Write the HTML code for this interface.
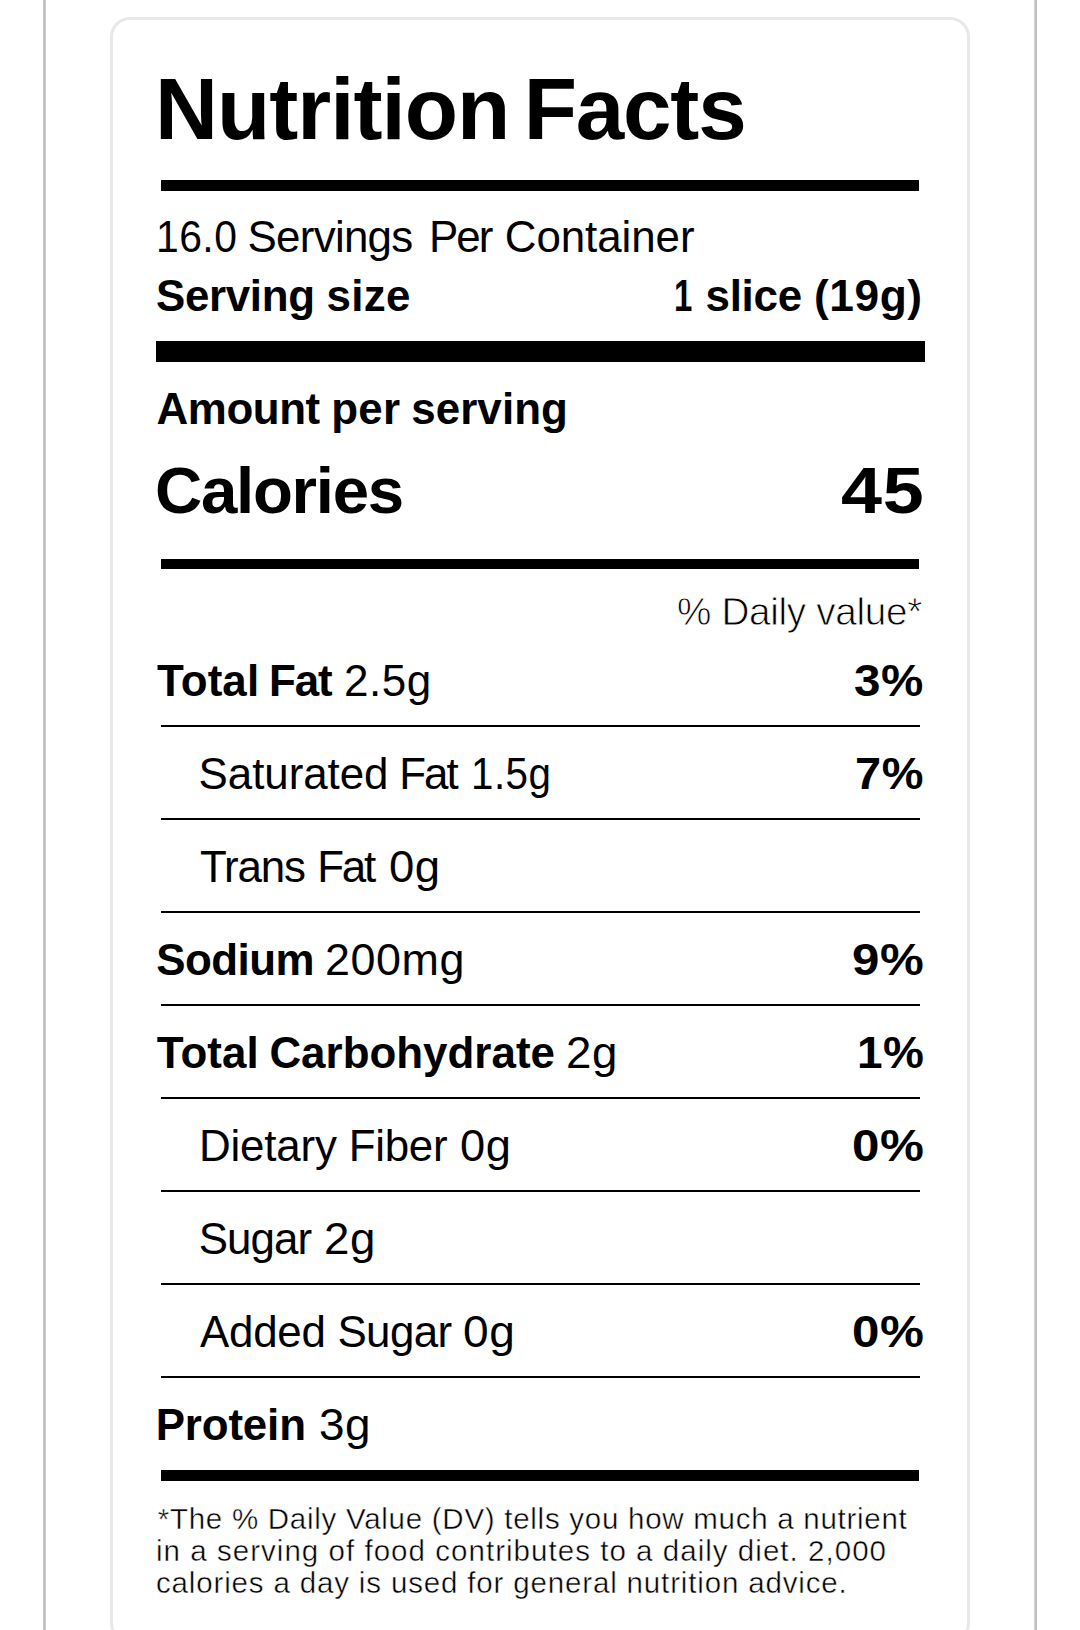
<!DOCTYPE html><html lang="en"><head><meta charset="utf-8"><title>Nutrition Facts</title><style>
html,body{margin:0;padding:0;background:#fff;overflow:hidden;}
body{width:1080px;height:1630px;position:relative;overflow:hidden;font-family:"Liberation Sans",sans-serif;color:#000;}
.vl{position:absolute;top:0;height:1630px;width:3px;}
.vl.l{left:43px;background:linear-gradient(to right,#c6c6c6 0,#c6c6c6 1px,#bbbbbb 1px,#bbbbbb 2px,#d0d0d0 2px);}
.vl.rt{left:1034px;background:linear-gradient(to right,#d4d4d4 0,#d4d4d4 1px,#c4c4c4 1px,#c4c4c4 2px,#bbbbbb 2px);}
.card{position:absolute;left:110.3px;top:16.5px;width:854px;height:1620px;border:3px solid #e8e8e8;border-radius:20px;box-sizing:content-box;}
.r{position:absolute;background:#000;}
.t{position:absolute;white-space:nowrap;line-height:1;margin:0;padding:0;}
</style></head><body>
<div class="vl l"></div><div class="vl rt"></div>
<div class="card"></div>
<div class="r" style="left:161.25px;top:180px;width:757.50px;height:10.50px"></div>
<div class="r" style="left:155.75px;top:341.25px;width:768.85px;height:20.75px"></div>
<div class="r" style="left:161.25px;top:558.75px;width:757.50px;height:10.50px"></div>
<div class="r" style="left:161.25px;top:1470px;width:757.50px;height:10.50px"></div>
<div class="r" style="left:161.25px;top:725.1px;width:758.35px;height:1.80px"></div>
<div class="r" style="left:161.25px;top:818.1px;width:758.35px;height:1.80px"></div>
<div class="r" style="left:161.25px;top:911.1px;width:758.35px;height:1.80px"></div>
<div class="r" style="left:161.25px;top:1004.1px;width:758.35px;height:1.80px"></div>
<div class="r" style="left:161.25px;top:1097.1px;width:758.35px;height:1.80px"></div>
<div class="r" style="left:161.25px;top:1190.1px;width:758.35px;height:1.80px"></div>
<div class="r" style="left:161.25px;top:1283.1px;width:758.35px;height:1.80px"></div>
<div class="r" style="left:161.25px;top:1376.1px;width:758.35px;height:1.80px"></div>
<div class="t" id="title" style="left:154.90px;top:65.00px;font-size:87.21px;font-weight:700;letter-spacing:-0.975px;">Nutrition <span style="letter-spacing:-1.250px;margin-left:-8.80px">Facts</span></div>
<div class="t" id="spc0" style="left:155.60px;top:215.00px;font-size:43.90px;font-weight:400;letter-spacing:0.527px;transform:scaleX(0.9293);transform-origin:0 0;">16.0</div>
<div class="t" id="spc1" style="left:247.50px;top:215.00px;font-size:43.90px;font-weight:400;letter-spacing:-0.714px;">Servings <span style="letter-spacing:-2.000px;margin-left:5.00px">Per</span> <span style="letter-spacing:-0.075px;margin-left:2.00px">Container</span></div>
<div class="t" id="ssz" style="left:156.00px;top:274.00px;font-size:43.90px;font-weight:700;letter-spacing:-0.333px;">Serving <span style="letter-spacing:0.333px;margin-left:0.00px">size</span></div>
<div class="t" id="ssv0" style="left:674.25px;top:274.00px;font-size:43.90px;font-weight:700;letter-spacing:0.527px;transform:scaleX(0.7512);transform-origin:0 0;">1</div>
<div class="t" id="ssv1" style="left:705.50px;top:274.00px;font-size:43.90px;font-weight:700;letter-spacing:-0.250px;">slice</div>
<div class="t" id="ssv2" style="left:814.25px;top:274.00px;font-size:43.90px;font-weight:700;letter-spacing:0.527px;transform:scaleX(1.0097);transform-origin:0 0;">(19g)</div>
<div class="t" id="aps" style="left:156.60px;top:387.00px;font-size:43.90px;font-weight:700;letter-spacing:-0.440px;">Amount <span style="letter-spacing:0.200px;margin-left:-0.20px">per</span> <span style="letter-spacing:0.100px;margin-left:-0.80px">serving</span></div>
<div class="t" id="cal" style="left:155.00px;top:458.00px;font-size:65.41px;font-weight:700;letter-spacing:-1.286px;">Calories</div>
<div class="t" id="calv" style="left:841.00px;top:458.00px;font-size:65.41px;font-weight:700;letter-spacing:0.785px;transform:scaleX(1.1268);transform-origin:0 0;">45</div>
<div class="t" id="dv" style="left:677.00px;top:593.00px;font-size:38.66px;font-weight:400;letter-spacing:-0.308px;-webkit-text-stroke:0.8px #fff;paint-order:fill stroke;">% Daily value*</div>
<div class="t" id="tf" style="left:157.10px;top:659.00px;font-size:43.90px;font-weight:700;letter-spacing:0.100px;">Total <span style="letter-spacing:-1.000px;margin-left:-2.60px">Fat</span></div>
<div class="t" id="tfv" style="left:344.10px;top:659.00px;font-size:43.90px;font-weight:400;letter-spacing:0.527px;transform:scaleX(1.0025);transform-origin:0 0;">2.5g</div>
<div class="t" id="tfp" style="left:854.10px;top:659.00px;font-size:43.90px;font-weight:700;letter-spacing:0.527px;transform:scaleX(1.0840);transform-origin:0 0;">3%</div>
<div class="t" id="sf" style="left:198.60px;top:752.00px;font-size:43.90px;font-weight:400;letter-spacing:-0.050px;">Saturated <span style="letter-spacing:-2.000px;margin-left:-1.40px">Fat</span></div>
<div class="t" id="sfv" style="left:470.70px;top:752.00px;font-size:43.90px;font-weight:400;letter-spacing:0.527px;transform:scaleX(0.9186);transform-origin:0 0;">1.5g</div>
<div class="t" id="sfp" style="left:855.10px;top:752.00px;font-size:43.90px;font-weight:700;letter-spacing:0.527px;transform:scaleX(1.0689);transform-origin:0 0;">7%</div>
<div class="t" id="trf" style="left:199.90px;top:845.00px;font-size:43.90px;font-weight:400;letter-spacing:-1.150px;">Trans <span style="letter-spacing:-2.200px;margin-left:1.40px">Fat</span></div>
<div class="t" id="trfv" style="left:388.80px;top:845.00px;font-size:43.90px;font-weight:400;letter-spacing:0.527px;transform:scaleX(1.0357);transform-origin:0 0;">0g</div>
<div class="t" id="so" style="left:156.20px;top:938.00px;font-size:43.90px;font-weight:700;letter-spacing:-0.520px;">Sodium</div>
<div class="t" id="sov" style="left:324.50px;top:938.00px;font-size:43.90px;font-weight:400;letter-spacing:0.527px;transform:scaleX(1.0228);transform-origin:0 0;">200mg</div>
<div class="t" id="sop" style="left:851.70px;top:938.00px;font-size:43.90px;font-weight:700;letter-spacing:0.527px;transform:scaleX(1.1214);transform-origin:0 0;">9%</div>
<div class="t" id="tc" style="left:156.80px;top:1031.00px;font-size:43.90px;font-weight:700;letter-spacing:0.100px;">Total <span style="letter-spacing:0.018px;margin-left:-1.80px">Carbohydrate</span></div>
<div class="t" id="tcv" style="left:566.40px;top:1031.00px;font-size:43.90px;font-weight:400;letter-spacing:0.527px;transform:scaleX(1.0401);transform-origin:0 0;">2g</div>
<div class="t" id="tcp" style="left:856.90px;top:1031.00px;font-size:43.90px;font-weight:700;letter-spacing:0.527px;transform:scaleX(1.0468);transform-origin:0 0;">1%</div>
<div class="t" id="df" style="left:199.00px;top:1124.00px;font-size:43.90px;font-weight:400;letter-spacing:-0.200px;">Dietary <span style="letter-spacing:-0.250px;margin-left:0.00px">Fiber</span></div>
<div class="t" id="dfv" style="left:459.70px;top:1124.00px;font-size:43.90px;font-weight:400;letter-spacing:0.527px;transform:scaleX(1.0311);transform-origin:0 0;">0g</div>
<div class="t" id="dfp" style="left:851.70px;top:1124.00px;font-size:43.90px;font-weight:700;letter-spacing:0.527px;transform:scaleX(1.1238);transform-origin:0 0;">0%</div>
<div class="t" id="su" style="left:198.70px;top:1217.00px;font-size:43.90px;font-weight:400;letter-spacing:-0.900px;">Sugar</div>
<div class="t" id="suv" style="left:324.40px;top:1217.00px;font-size:43.90px;font-weight:400;letter-spacing:0.527px;transform:scaleX(1.0401);transform-origin:0 0;">2g</div>
<div class="t" id="as" style="left:200.10px;top:1310.00px;font-size:43.90px;font-weight:400;letter-spacing:-0.300px;">Added <span style="letter-spacing:-0.600px;margin-left:0.00px">Sugar</span></div>
<div class="t" id="asv" style="left:463.10px;top:1310.00px;font-size:43.90px;font-weight:400;letter-spacing:0.527px;transform:scaleX(1.0492);transform-origin:0 0;">0g</div>
<div class="t" id="asp" style="left:851.70px;top:1310.00px;font-size:43.90px;font-weight:700;letter-spacing:0.527px;transform:scaleX(1.1238);transform-origin:0 0;">0%</div>
<div class="t" id="pr" style="left:155.75px;top:1403.00px;font-size:43.90px;font-weight:700;letter-spacing:-0.167px;">Protein</div>
<div class="t" id="prv" style="left:318.50px;top:1403.00px;font-size:43.90px;font-weight:400;letter-spacing:0.527px;transform:scaleX(1.0446);transform-origin:0 0;">3g</div>
<div class="t" id="fn1" style="left:157.75px;top:1504.00px;font-size:29.51px;font-weight:400;letter-spacing:0.731px;-webkit-text-stroke:0.45px #fff;paint-order:fill stroke;">*The % Daily Value (DV) tells you how much a nutrient</div>
<div class="t" id="fn2" style="left:156.00px;top:1536.00px;font-size:29.51px;font-weight:400;letter-spacing:1.037px;-webkit-text-stroke:0.45px #fff;paint-order:fill stroke;">in a serving of food contributes to a daily diet. 2,000</div>
<div class="t" id="fn3" style="left:156.00px;top:1568.00px;font-size:29.51px;font-weight:400;letter-spacing:0.843px;-webkit-text-stroke:0.45px #fff;paint-order:fill stroke;">calories a day is used for general nutrition advice.</div>
</body></html>
